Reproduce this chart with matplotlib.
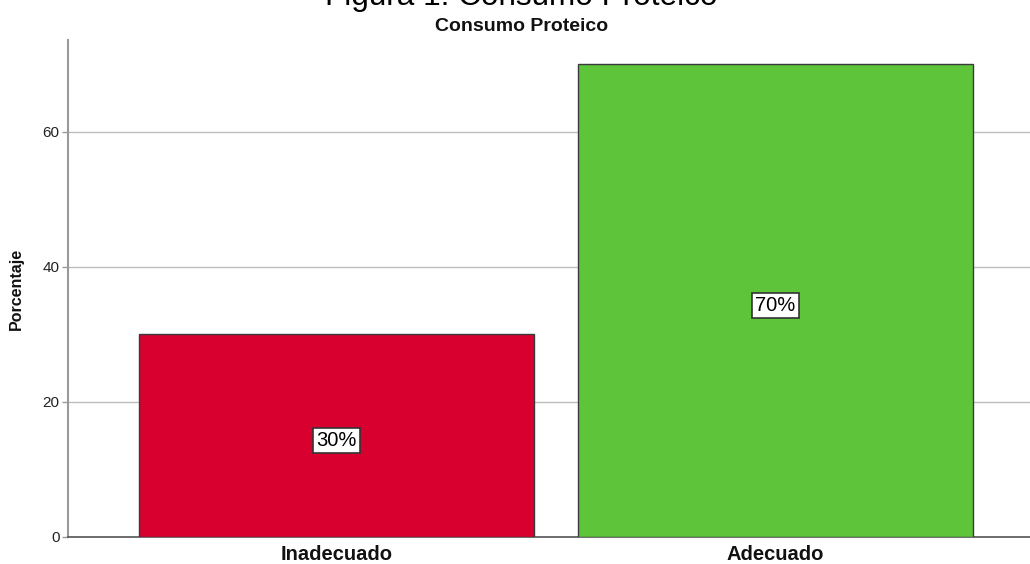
import matplotlib.pyplot as plt

plt.rcParams['font.family'] = ['Liberation Sans', 'DejaVu Sans']

categorias = ['Inadecuado', 'Adecuado']
porcentajes = [30, 70]
colores = ['#D7002E', '#5EC43A']

fig = plt.figure(figsize=(10.3, 5.64), dpi=100)
ax = fig.add_axes([0.066, 0.048, 0.934, 0.881])

ax.bar(range(len(categorias)), porcentajes, width=0.9, color=colores,
       edgecolor='#3a3a3a', linewidth=1.0, zorder=3)

# etiquetas de porcentaje en el centro de cada barra
for i, v in enumerate(porcentajes):
    ax.text(i, v / 2 - 0.7, f'{v}%', ha='center', va='center', fontsize=14.5,
            color='#000000', zorder=4,
            bbox=dict(boxstyle='square,pad=0.15', facecolor='white',
                      edgecolor='#333333', linewidth=1.2))

ax.set_xlim(-0.612, 1.58)
ax.set_ylim(0, 73.6)
ax.set_yticks([0, 20, 40, 60])
ax.set_xticks(range(len(categorias)))
ax.set_xticklabels(categorias, fontsize=14.5, fontweight='bold', color='#111111')
ax.tick_params(axis='x', length=0, pad=6)
ax.tick_params(axis='y', length=4, width=1, color='#999999', labelsize=11,
               labelcolor='#222222', pad=2)

ax.yaxis.grid(True, color='#BDBDBD', linewidth=1.0, zorder=0)
ax.set_axisbelow(True)

for s in ['top', 'right']:
    ax.spines[s].set_visible(False)
ax.spines['left'].set_color('#999999')
ax.spines['left'].set_linewidth(1.5)
ax.spines['bottom'].set_color('#555555')
ax.spines['bottom'].set_linewidth(1.2)

ax.set_ylabel('Porcentaje', fontsize=11.5, fontweight='bold', color='#111111')
ax.yaxis.set_label_coords(-0.046, 0.5)

fig.text(0.506, 1 - 5 / 564, 'Figura 1. Consumo Proteico', ha='center',
         va='baseline', fontsize=22.7, color='#000000')
fig.text(0.506, 1 - 31 / 564, 'Consumo Proteico', ha='center', va='baseline',
         fontsize=14, fontweight='bold', color='#111111')

fig.savefig('out.png', dpi=100)
